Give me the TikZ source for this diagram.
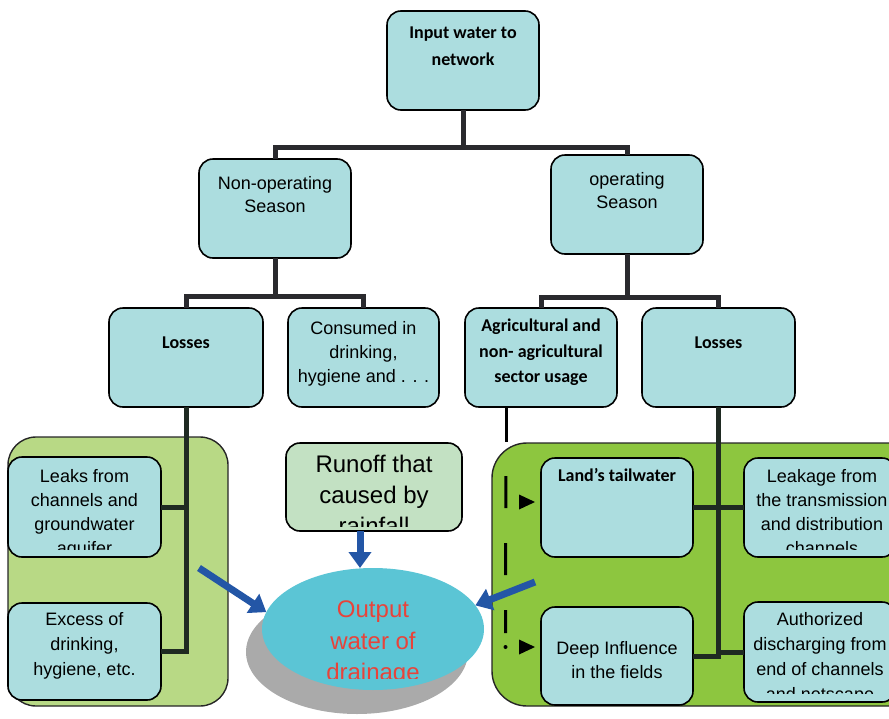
\documentclass[tikz,border=0pt]{standalone}
\usepackage{fontspec}
\setmainfont{Liberation Sans}
\newfontfamily\calibrifont{Carlito}
\usetikzlibrary{arrows.meta,shapes.geometric}
\definecolor{boxfill}{HTML}{ACDDDF}
\definecolor{leftpanel}{HTML}{B8D985}
\definecolor{rightpanel}{HTML}{8DC63F}
\definecolor{runofffill}{HTML}{C3E1C3}
\definecolor{ellfill}{HTML}{5BC5D5}
\definecolor{shadowgray}{HTML}{AAAAAA}
\definecolor{arrowblue}{HTML}{2356A6}
\definecolor{textred}{HTML}{E8433A}
\definecolor{treegray}{HTML}{2A2A2E}
\definecolor{treein}{HTML}{1F2A22}
\begin{document}
\begin{tikzpicture}[x=1pt,y=-1pt,
  box/.style={draw=black, line width=1.6pt, rounded corners=14pt, fill=boxfill,
    minimum width=152pt, minimum height=99pt, inner sep=0pt, outer sep=0pt},
  txt/.style={anchor=north, align=center, inner sep=0pt, font={\fontsize{18}{24}\selectfont}},
  btxt/.style={anchor=north, align=center, inner sep=0pt, font={\calibrifont\bfseries\fontsize{18}{26.5}\selectfont}},
  tree/.style={draw=treegray, line width=5pt, line join=miter},
  treeline/.style={draw=treein, line width=5pt, line join=miter},
  bluearrow/.style={draw=arrowblue, line width=7pt, -{Triangle[width=22pt,length=16pt]}},
  panel/.style={draw=black!85, line width=1.4pt}
]
\useasboundingbox (0,0) rectangle (889,718);

% panels
\path[panel, fill=leftpanel, rounded corners=28pt] (8,437) rectangle (228,706);
\path[panel, fill=rightpanel, rounded corners=35pt] (492,443) rectangle (930,706);

% output ellipse with shadow
\fill[shadowgray] (357,652) ellipse [x radius=111, y radius=62];
\node[ellipse, fill=ellfill, minimum width=222pt, minimum height=122pt, inner sep=0pt, outer sep=0pt] (out) at (373,629) {};

% boxes
\node[box] (input) at (463,60.5) {};
\node[box] (nonop) at (275,208.5) {};
\node[box] (op) at (627,204.5) {};
\node[box, minimum width=154pt] (lossL) at (186,357.5) {};
\node[box, minimum width=151pt] (cons) at (363.5,357.5) {};
\node[box] (agri) at (541,357.5) {};
\node[box, minimum width=153pt] (lossR) at (718.5,357.5) {};

% tree connectors
\draw[tree] (input.south) -- ++(0,37) coordinate (j1);
\draw[tree] (nonop.north) |- (j1) -| (op.north);
\draw[tree] (nonop.south) -- ++(0,38) coordinate (j2);
\draw[tree] (lossL.north) |- (j2) -| (cons.north);
\draw[tree] (op.south) -- ++(0,43) coordinate (j3);
\draw[tree] (agri.north) |- (j3) -| (lossR.north);

% lower boxes
\node[box, minimum width=153pt, minimum height=100pt] (leaks) at (84.5,507) {};
\node[box, minimum width=153pt, minimum height=97pt] (excess) at (84.5,651.5) {};
\node[box, fill=runofffill, minimum width=176pt, minimum height=88pt] (runoff) at (374,487) {};
\node[box] (lands) at (617,507.5) {};
\node[box] (leakage) at (820,507.5) {};
\node[box, minimum height=98pt] (deep) at (617,656) {};
\node[box, minimum height=100pt] (auth) at (820,652) {};

% left losses connectors
\draw[treeline] (lossL.south) |- (excess.east);
\draw[treeline] (leaks.east) -- (leaks.east -| lossL.south);

% right losses connectors
\draw[treeline] (lossR.south) |- (deep.east);
\draw[treeline] (lands.east) -- (leakage.west);
\draw[treeline] (lossR.south |- auth.west) -- (auth.west);

% agricultural dashed connector
\draw[black, line width=3pt] ([xshift=-35pt]agri.south) -- ++(0,35) coordinate (d0);
\draw[black, line width=3pt, dash pattern=on 32pt off 35pt, dash phase=33pt] (d0) -- (505.5,633);
\fill[black] (505.5,647) circle (2pt);
\fill[black] (519,494.5) -- (535,502) -- (519,509.5) -- cycle;
\fill[black] (519,639.5) -- (535,647) -- (519,654.5) -- cycle;

% texts
\node[btxt] (input-t) at (463,27) {Input water to\\network};
\node[txt, font={\fontsize{18}{23.5}\selectfont}] (nonop-t) at (275,176) {Non-operating\\Season};
\node[txt, font={\fontsize{18}{23.5}\selectfont}] (op-t) at (627,172) {operating\\Season};
\node[btxt] (lossL-t) at (186,337) {Losses};
\node[txt] (cons-t) at (363.5,321) {Consumed in\\drinking,\\hygiene and . . .};
\node[btxt, font={\calibrifont\bfseries\fontsize{18}{25.5}\selectfont}] (agri-t) at (541,319) {Agricultural and\\non- agricultural\\sector usage};
\node[btxt] (lossR-t) at (718.5,337) {Losses};
\begin{scope}
  \clip (8,457) rectangle (161,549);
  \node[txt] (leaks-t) at (84.5,469) {Leaks from\\channels and\\groundwater\\aquifer};
\end{scope}
\node[txt, font={\fontsize{18}{25}\selectfont}] (excess-t) at (84.5,612) {Excess of\\drinking,\\hygiene, etc.};
\begin{scope}
  \clip (286,443) rectangle (462,526);
  \node[txt, font={\fontsize{24}{31}\selectfont}] (runoff-t) at (374,455) {Runoff that\\caused by\\rainfall};
\end{scope}
\begin{scope}
  \clip (262,568) rectangle (484,678);
  \node[txt, text=textred, font={\fontsize{24}{31.5}\selectfont}] (out-t) at (373,601) {Output\\water of\\drainage};
\end{scope}
\node[btxt] (lands-t) at (617,468) {Land’s tailwater};
\begin{scope}
  \clip (744,458) rectangle (900,549);
  \node[txt] (leakage-t) at (822,469) {Leakage from\\the transmission\\and distribution\\channels};
\end{scope}
\node[txt] (deep-t) at (617,641) {Deep Influence\\in the fields};
\begin{scope}
  \clip (744,602) rectangle (900,693);
  \node[txt, font={\fontsize{18}{25}\selectfont}] (auth-t) at (820,612) {Authorized\\discharging from\\end of channels\\and netscape};
\end{scope}

% blue arrows
\coordinate (la) at (199,568);
\coordinate (ra) at (535,582);
\draw[bluearrow] ([xshift=-14pt]runoff.south) -- ([xshift=-13pt]out.north);
\draw[bluearrow] (la) -- (out.171);
\draw[bluearrow] (ra) -- (out.13);
\end{tikzpicture}
\end{document}
